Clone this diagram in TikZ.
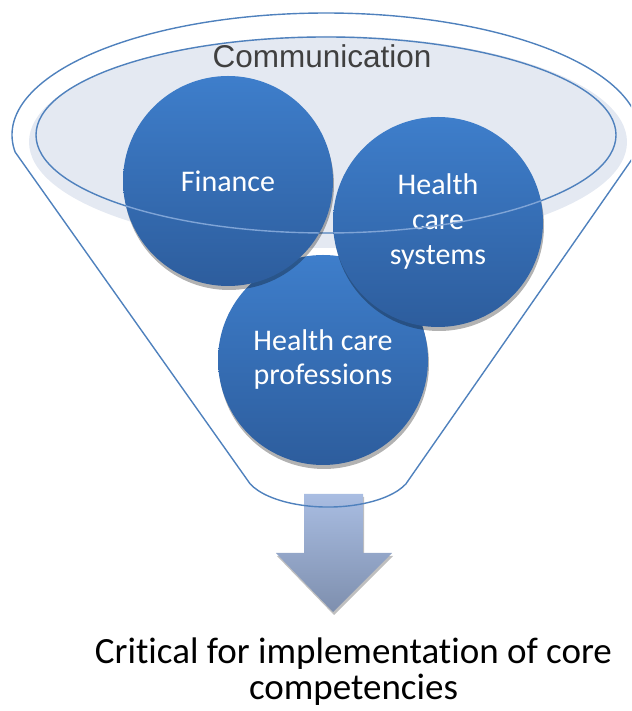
\documentclass[tikz,border=0pt]{standalone}
\usepackage{fontspec}
\newfontfamily\calib[Ligatures=NoCommon]{Carlito}
\newfontfamily\arialf{Liberation Sans}
\usetikzlibrary{shadows}
\definecolor{lineblue}{HTML}{4F81BD}
\definecolor{lightline}{HTML}{7FA4D6}
\definecolor{fillpale}{HTML}{E4E9F2}
\definecolor{ctop}{HTML}{3E7ECB}
\definecolor{cbot}{HTML}{2D5D9D}
\definecolor{atop}{HTML}{A9BDE2}
\definecolor{abot}{HTML}{7E8FAE}
\definecolor{commgray}{HTML}{404040}
\begin{document}
\begin{tikzpicture}[x=1pt,y=1pt,
  ball/.style={circle, minimum size=210pt, inner sep=0pt, top color=ctop, bottom color=cbot,
    text=white, align=center, font=\calib\fontsize{30}{34}\selectfont,
    drop shadow={shadow xshift=1pt, shadow yshift=-4pt, opacity=0.3, fill=black}},
  rim/.style={draw=lineblue, line width=1.4pt},
  overlayrim/.style={draw=lightline, line width=1.4pt},
  arrowshape/.style={top color=atop, bottom color=abot,
    drop shadow={shadow xshift=1pt, shadow yshift=-3pt, opacity=0.25, fill=black}},
  labeltext/.style={font=\calib\fontsize{37}{36}\selectfont, align=center, text=black},
  commtext/.style={font=\arialf\fontsize{31.5}{36}\selectfont, text=commgray}
]
\useasboundingbox (0,0) rectangle (631,711);
\clip (0,0) rectangle (631,711);
% arrow
\path[arrowshape] (304,217) -- (363,217) -- (363,158) -- (392,158) -- (333,99) -- (276,158) -- (304,158) -- cycle;
% pale top of the funnel
\fill[fillpale] (328,569) ellipse [x radius=299, y radius=106];
% funnel outline
\draw[rim, line join=round] (15.1,559) arc[start angle=188, end angle=-8, x radius=314, y radius=122]
  -- (405.9,227.1) arc[start angle=-22, end angle=-158, x radius=84, y radius=37] -- cycle;
% inner rim
\draw[rim] (326,576) ellipse [x radius=290, y radius=98];
% title
\node[commtext] (comm) at (322,655) {Communication};
% circles
\node[ball] (hcp) at (323,351) {Health care\\professions};
\node[ball] (fin) at (228,530) {Finance};
\node[ball, font=\calib\fontsize{30}{35}\selectfont] (hcs) at (438,489) {Health\\care\\systems};
% light rim over the circles
\begin{scope}
  \clip (fin.center) circle (105) (hcs.center) circle (105);
  \draw[overlayrim] (326,576) ellipse [x radius=290, y radius=98];
\end{scope}
% caption
\node[labeltext] (crit) at (353.5,39) {Critical for implementation of core\\competencies};
\end{tikzpicture}
\end{document}
